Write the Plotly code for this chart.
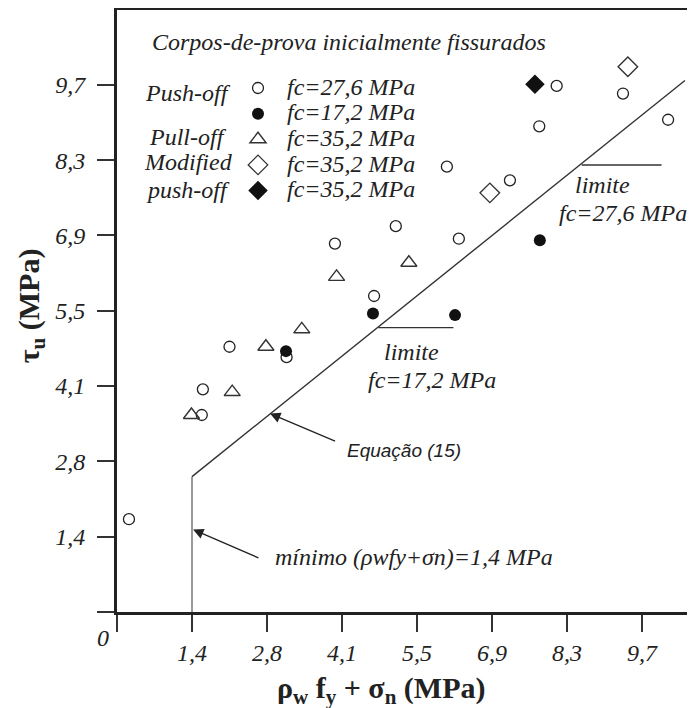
import plotly.graph_objects as go

# ---------------- data ----------------
push27_x = [0.22, 1.56, 1.58, 2.07, 3.12, 4.01, 4.73, 5.13, 6.07, 6.29, 7.23, 7.77, 8.09, 9.31, 10.14]
push27_y = [1.70, 3.61, 4.08, 4.86, 4.67, 6.75, 5.79, 7.07, 8.16, 6.84, 7.91, 8.90, 9.64, 9.50, 9.02]

push17_x = [3.11, 4.71, 6.22, 7.78]
push17_y = [4.78, 5.47, 5.44, 6.81]

pull35_x = [1.37, 2.12, 2.74, 3.40, 4.04, 5.37]
pull35_y = [3.61, 4.03, 4.86, 5.18, 6.14, 6.40]

modopen_x = [6.86, 9.40]
modopen_y = [7.68, 9.99]

modfill_x = [7.69]
modfill_y = [9.67]

# design lines
min_x = [1.38, 1.38]
min_y = [0.0, 2.48]
eq_x = [1.38, 10.45]
eq_y = [2.48, 9.74]
lim17_x = [4.81, 6.19]
lim17_y = [5.21, 5.21]
lim27_x = [8.55, 10.02]
lim27_y = [8.19, 8.19]

tick_vals = [0, 1.38, 2.76, 4.14, 5.52, 6.90, 8.28, 9.66]
tick_text = ["", "1,4", "2,8", "4,1", "5,5", "6,9", "8,3", "9,7"]

# ---------------- layout geometry ----------------
OFF = 8                      # page body margin offset
W, H = 695 - OFF, 708 - OFF
L, T, R, B = 109, 1.8, W, 603.7
XMAX = (R - L) / 75.0 * 1.38
YMAX = (B - T) / 75.3 * 1.38


def px(xs):
    return (xs - OFF - L) / (R - L)


def py(ys):
    return (B - (ys - OFF)) / (B - T)


SERIF = "Liberation Serif"
SANS = "Liberation Sans"
INK = "#222222"
FS = 24

fig = go.Figure()

fig.add_trace(go.Scatter(x=min_x, y=min_y, mode="lines",
                         line=dict(color="#9a9a9a", width=2), showlegend=False, hoverinfo="skip"))
fig.add_trace(go.Scatter(x=eq_x, y=eq_y, mode="lines",
                         line=dict(color="#333333", width=1.4), showlegend=False, hoverinfo="skip"))
fig.add_trace(go.Scatter(x=lim17_x, y=lim17_y, mode="lines",
                         line=dict(color="#333333", width=1.4), showlegend=False, hoverinfo="skip"))
fig.add_trace(go.Scatter(x=lim27_x, y=lim27_y, mode="lines",
                         line=dict(color="#333333", width=1.4), showlegend=False, hoverinfo="skip"))


def lab(t):
    return f'<span style="font-size:{FS}px">{t}</span>'


fig.add_trace(go.Scatter(x=push27_x, y=push27_y, mode="markers", name=lab("fc=27,6 MPa"),
                         marker=dict(symbol="circle-open", size=11, color=INK, line=dict(width=1.3))))
fig.add_trace(go.Scatter(x=push17_x, y=push17_y, mode="markers", name=lab("fc=17,2 MPa"),
                         marker=dict(symbol="circle", size=12, color="#111111", line=dict(width=0))))
fig.add_trace(go.Scatter(x=pull35_x, y=pull35_y, mode="markers", name=lab("fc=35,2 MPa"),
                         marker=dict(symbol="triangle-up-open", size=14, color="#333333", line=dict(width=1.4))))
fig.add_trace(go.Scatter(x=modopen_x, y=modopen_y, mode="markers", name=lab("fc=35,2 MPa"),
                         marker=dict(symbol="diamond-open", size=15, color="#333333", line=dict(width=1.4))))
fig.add_trace(go.Scatter(x=modfill_x, y=modfill_y, mode="markers", name=lab("fc=35,2 MPa"),
                         marker=dict(symbol="diamond", size=15, color="#111111", line=dict(width=0))))

ann = []


def text(t, xs, ys, size=FS, xanchor="left", family=SERIF, style="italic", weight="normal", angle=0):
    ann.append(dict(text=t, x=px(xs), y=py(ys), xref="paper", yref="paper",
                    xanchor=xanchor, yanchor="middle", showarrow=False, textangle=angle,
                    font=dict(family=family, size=size, color=INK, style=style, weight=weight)))


text("Corpos-de-prova inicialmente fissurados", 150, 42)
text("Push-off", 188, 93, xanchor="center")
text("Pull-off", 188, 137, xanchor="center")
text("Modified", 188, 162, xanchor="center")
text("push-off", 188, 190, xanchor="center")
text("limite", 382, 352)
text("fc=17,2 MPa", 366, 380)
text("limite", 573, 185)
text("fc=27,6 MPa", 557, 213)
text("Equação (15)", 345, 450, size=19, family=SANS)
text("mínimo (ρwfy+σn)=1,4 MPa", 273, 557)
text("0", 103, 638, xanchor="center")
text("ρ<sub>w</sub> f<sub>y</sub> + σ<sub>n</sub> (MPa)", 381, 690, size=30,
     xanchor="center", style="normal", weight="bold")
text("τ<sub>u</sub> (MPa)", 31, 306, size=30, xanchor="center", style="normal", weight="bold", angle=-90)

# arrows (data coordinates)
ann.append(dict(x=2.815, y=3.636, ax=4.04, ay=3.12, xref="x", yref="y", axref="x", ayref="y",
                text="", showarrow=True, arrowhead=2, arrowsize=1.6, arrowwidth=1.3, arrowcolor=INK))
ann.append(dict(x=1.40, y=1.51, ax=2.63, ay=0.98, xref="x", yref="y", axref="x", ayref="y",
                text="", showarrow=True, arrowhead=2, arrowsize=1.6, arrowwidth=1.3, arrowcolor=INK))

fig.update_layout(
    width=W, height=H,
    margin=dict(l=L, r=W - R, t=T, b=H - B),
    paper_bgcolor="white", plot_bgcolor="white",
    annotations=ann,
    legend=dict(x=px(229), y=py(70), xanchor="left", yanchor="top",
                font=dict(family=SERIF, size=17.4, color=INK, style="italic"),
                bgcolor="rgba(0,0,0,0)", itemwidth=48, tracegroupgap=0),
    xaxis=dict(range=[0, XMAX], tickvals=tick_vals, ticktext=tick_text, showgrid=False, zeroline=False,
               showline=True, linewidth=3, linecolor=INK, mirror=True,
               ticks="outside", ticklen=17, tickwidth=2, tickcolor="#333333",
               tickfont=dict(family=SERIF, size=FS, color=INK, style="italic")),
    yaxis=dict(range=[0, YMAX], tickvals=tick_vals, ticktext=tick_text, showgrid=False, zeroline=False,
               showline=True, linewidth=3, linecolor=INK, mirror=False,
               ticks="outside", ticklen=17, tickwidth=2, tickcolor="#333333", ticklabelstandoff=7,
               tickfont=dict(family=SERIF, size=FS, color=INK, style="italic")),
)

fig.write_html("out.html")
